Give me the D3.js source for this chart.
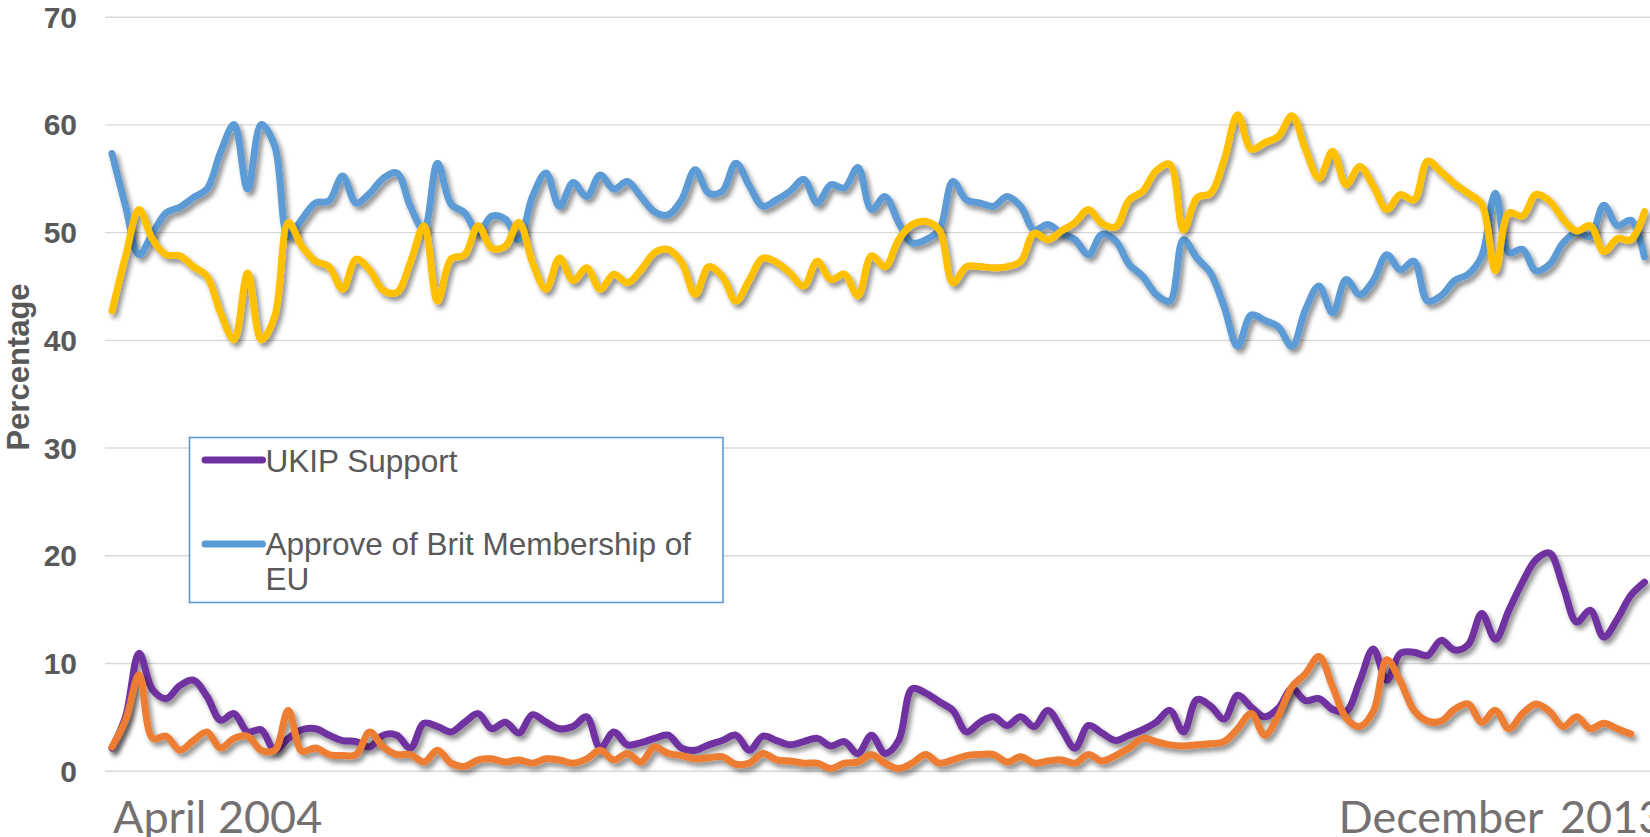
<!DOCTYPE html>
<html>
<head>
<meta charset="utf-8">
<script src="https://cdn.jsdelivr.net/npm/d3@7"></script>
<style>
  html, body { margin: 0; padding: 0; background: #ffffff; }
  svg { display: block; }
</style>
</head>
<body>
<svg id="chart" width="1650" height="837"></svg>
<script>
// ---------------- DATA ----------------
const xLabels = ["April 2004", "December 2013"];
const yTicks = [0, 10, 20, 30, 40, 50, 60, 70];
const yTitle = "Percentage";

const legendNames = ["UKIP Support", "Approve of Brit Membership of EU"];

// Poll-by-poll values, April 2004 .. December 2013 (114 polls)
const ukipSupport = [
  2.1, 5.0, 10.9, 7.5, 6.7, 7.9, 8.4, 6.9, 4.7, 5.3,
  3.6, 3.8, 1.9, 3.0, 3.8, 3.9, 3.3, 2.8, 2.7, 2.2,
  3.3, 3.3, 2.1, 4.4, 4.1, 3.6, 4.5, 5.3, 3.9, 4.5,
  3.5, 5.2, 4.5, 3.9, 4.1, 5.0, 2.1, 3.6, 2.4, 2.6,
  3.0, 3.3, 2.1, 1.9, 2.4, 2.8, 3.3, 1.9, 3.2, 2.8,
  2.4, 2.7, 3.0, 2.3, 2.7, 1.6, 3.3, 1.6, 2.8, 7.6,
  7.2, 6.4, 5.6, 3.6, 4.5, 5.0, 4.2, 5.0, 4.1, 5.6,
  3.9, 2.1, 4.2, 3.5, 2.8, 3.3, 3.8, 4.5, 5.6, 3.6,
  6.6, 6.0, 4.8, 7.0, 5.9, 5.0, 5.8, 7.6, 6.5, 6.7,
  5.7, 5.5, 8.3, 11.3, 8.4, 10.9, 11.0, 10.7, 12.1, 11.2,
  11.7, 14.6, 12.2, 14.9, 17.5, 19.6, 20.2, 17.1, 13.8, 14.9,
  12.4, 14.1, 16.3, 17.5
];

const approveMembership = [
  57.3, 52.4, 47.9, 49.9, 51.8, 52.3, 53.2, 54.0, 57.4, 60.0,
  54.0, 60.0, 58.0, 49.6, 51.2, 52.7, 52.9, 55.2, 52.7, 53.6,
  55.0, 55.5, 52.4, 50.2, 56.4, 52.6, 51.8, 49.9, 51.5, 51.2,
  49.3, 53.3, 55.5, 52.4, 54.6, 53.3, 55.3, 54.0, 54.7, 53.3,
  51.9, 51.6, 53.0, 55.8, 53.6, 53.8, 56.4, 54.3, 52.4, 53.0,
  53.8, 54.9, 52.7, 54.4, 54.1, 56.0, 52.1, 53.3, 50.9, 49.0,
  49.3, 50.2, 54.7, 53.0, 52.7, 52.4, 53.3, 52.4, 50.2, 50.7,
  49.9, 49.3, 47.9, 49.8, 49.2, 47.0, 45.9, 44.2, 43.6, 49.3,
  47.6, 46.2, 43.1, 39.4, 42.3, 41.8, 41.2, 39.4, 42.8, 45.0,
  42.5, 45.6, 44.2, 45.5, 47.9, 46.5, 47.3, 43.6, 44.1, 45.5,
  46.1, 47.8, 53.6, 48.1, 48.4, 46.4, 47.0, 49.0, 50.0, 49.6,
  52.5, 50.6, 51.1, 47.7
];

const disapproveMembership = [
  42.7, 47.8, 52.1, 49.3, 47.9, 47.8, 46.8, 45.9, 42.5, 40.0,
  46.2, 40.0, 42.2, 50.9, 48.7, 47.3, 46.8, 44.7, 47.5, 46.5,
  44.6, 44.4, 47.2, 50.6, 43.6, 47.5, 47.9, 50.6, 48.5, 48.7,
  50.9, 47.2, 44.7, 47.6, 45.5, 46.7, 44.7, 46.1, 45.3, 46.5,
  48.1, 48.4, 47.2, 44.2, 46.8, 45.9, 43.6, 45.6, 47.6, 47.2,
  46.2, 45.0, 47.3, 45.6, 46.1, 44.1, 47.8, 46.8, 49.3, 50.7,
  51.0, 50.2, 45.3, 46.8, 46.8, 46.7, 46.8, 47.3, 49.9, 49.3,
  50.1, 50.9, 52.1, 50.8, 50.5, 53.0, 53.8, 55.7, 56.3, 50.2,
  53.2, 53.6, 56.7, 60.9, 57.7, 58.3, 58.9, 60.8, 57.7, 55.0,
  57.5, 54.4, 56.1, 54.3, 52.1, 53.5, 53.0, 56.6, 55.6, 54.5,
  53.6, 52.6, 46.4, 51.8, 51.5, 53.5, 52.9, 51.2, 50.1, 50.6,
  48.2, 49.4, 49.3, 51.9
];

const europeIssue = [
  2.2, 4.7, 8.9, 3.0, 3.2, 1.9, 2.8, 3.6, 2.1, 3.0,
  3.2, 1.9, 1.9, 5.6, 1.8, 2.1, 1.5, 1.4, 1.5, 3.6,
  2.2, 1.5, 1.5, 0.8, 1.9, 0.7, 0.4, 1.0, 1.1, 0.8,
  1.0, 0.7, 1.1, 1.0, 0.7, 1.1, 1.9, 1.0, 1.6, 0.8,
  2.2, 1.6, 1.4, 1.1, 1.2, 1.3, 0.6, 0.7, 1.6, 1.0,
  0.9, 0.7, 0.7, 0.2, 0.7, 0.8, 1.5, 0.7, 0.2, 0.7,
  1.5, 0.7, 1.0, 1.4, 1.5, 1.5, 0.8, 1.3, 0.7, 0.9,
  1.0, 0.7, 1.5, 0.9, 1.4, 2.1, 3.0, 2.7, 2.4, 2.3,
  2.4, 2.5, 2.7, 3.9, 5.3, 3.3, 5.1, 7.8, 9.0, 10.6,
  7.8, 4.9, 4.1, 5.5, 10.3, 8.3, 5.6, 4.6, 4.6, 5.7,
  6.2, 4.5, 5.6, 3.9, 5.3, 6.2, 5.5, 4.1, 5.0, 3.9,
  4.4, 3.9, 3.4
];

const seriesColors = ["#7030A0", "#5B9BD5", "#FFC000", "#ED7D31"];

// ---------------- CHART ----------------
const W = 1650, H = 837;
const svg = d3.select("#chart");

const plotLeft = 105, plotRight = 1650;
const nPolls = approveMembership.length;

const x = d3.scaleLinear().domain([0, nPolls - 1]).range([112, 1644.5]);
const y = d3.scaleLinear().domain([0, 70]).range([770.7, 16.7]);

// shadow filter
const defs = svg.append("defs");
const f = defs.append("filter").attr("id", "shadow")
  .attr("filterUnits", "userSpaceOnUse")
  .attr("x", 0).attr("y", 0).attr("width", W).attr("height", H);
f.append("feGaussianBlur").attr("in", "SourceAlpha").attr("stdDeviation", 2.5).attr("result", "blur");
f.append("feOffset").attr("in", "blur").attr("dx", 3).attr("dy", 4).attr("result", "off");
const ct = f.append("feComponentTransfer").attr("in", "off").attr("result", "sh");
ct.append("feFuncA").attr("type", "linear").attr("slope", 0.45);
const fm = f.append("feMerge");
fm.append("feMergeNode").attr("in", "sh");
fm.append("feMergeNode").attr("in", "SourceGraphic");

// y axis with gridlines
const yAxis = d3.axisLeft(y)
  .tickValues(yTicks)
  .tickSize(-(plotRight - plotLeft))
  .tickPadding(28)
  .tickFormat(d3.format("d"));

const gy = svg.append("g")
  .attr("transform", `translate(${plotLeft},0)`)
  .call(yAxis);
gy.select(".domain").remove();
gy.selectAll(".tick line")
  .attr("stroke", "#D9D9D9")
  .attr("stroke-width", 1.4);
gy.selectAll(".tick text")
  .attr("fill", "#595959")
  .attr("dy", "0.35em")
  .style("font-family", "'Liberation Sans', Arial, sans-serif")
  .style("font-weight", "bold")
  .style("font-size", "30px");

// y title
svg.append("text")
  .attr("transform", `translate(29,367) rotate(-90)`)
  .attr("text-anchor", "middle")
  .attr("fill", "#595959")
  .style("font-family", "'Liberation Sans', Arial, sans-serif")
  .style("font-weight", "bold")
  .style("font-size", "31px")
  .text(yTitle);

// lines
const line = d3.line()
  .x((d, i) => x(i))
  .y(d => y(d))
  .curve(d3.curveCatmullRom.alpha(0.5));

const allSeries = [ukipSupport, approveMembership, disapproveMembership, europeIssue];
svg.append("g").attr("class", "lines")
  .selectAll("path")
  .data(allSeries)
  .join("path")
  .attr("d", d => line(d))
  .attr("fill", "none")
  .attr("stroke", (d, i) => seriesColors[i])
  .attr("stroke-width", 7)
  .attr("stroke-linecap", "round")
  .attr("stroke-linejoin", "round")
  .attr("filter", "url(#shadow)");

// x labels
const xl = svg.append("g").attr("class", "xlabels")
  .style("font-family", "Lato, 'Open Sans', sans-serif")
  .style("font-size", "45px")
  .attr("fill", "#757171");
xl.append("text").attr("x", 113).attr("y", 833).text(xLabels[0]);
xl.append("text").attr("x", 1338.5).attr("y", 833).style("word-spacing", "6px").text(xLabels[1]);

// legend
const lg = svg.append("g").attr("class", "legend");
lg.append("rect")
  .attr("x", 189.5).attr("y", 437.5)
  .attr("width", 533.5).attr("height", 165)
  .attr("fill", "#ffffff")
  .attr("stroke", "#5B9BD5")
  .attr("stroke-width", 1.6);

const legendRows = [
  { color: seriesColors[0], ly: 460, lines: [legendNames[0]], ty: 471.5 },
  { color: seriesColors[1], ly: 544, lines: ["Approve of Brit Membership of", "EU"], ty: 555 }
];
legendRows.forEach(r => {
  lg.append("line")
    .attr("x1", 205).attr("x2", 262.5)
    .attr("y1", r.ly).attr("y2", r.ly)
    .attr("stroke", r.color)
    .attr("stroke-width", 7)
    .attr("stroke-linecap", "round");
  const t = lg.append("text")
    .attr("fill", "#595959")
    .style("font-family", "'Liberation Sans', Arial, sans-serif")
    .style("font-size", "31.5px");
  r.lines.forEach((s, k) => {
    t.append("tspan").attr("x", 265.5).attr("y", r.ty + k * 35).text(s);
  });
});
</script>
</body>
</html>
